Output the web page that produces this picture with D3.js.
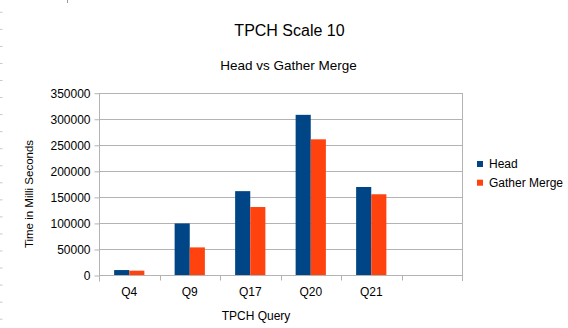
<!DOCTYPE html>
<html><head><meta charset="utf-8">
<script src="https://cdn.jsdelivr.net/npm/d3@7"></script>
<style>html,body{margin:0;padding:0;background:#fff;}svg{display:block;font-family:"Liberation Sans",Arial,sans-serif;}</style>
</head><body>
<script>
const categories = ["Q4", "Q9", "Q17", "Q20", "Q21", ""];
const seriesNames = ["Head", "Gather Merge"];
const headValues = [9500, 99000, 161000, 307500, 169000, null];
const gatherValues = [8300, 53000, 130500, 260500, 155000, null];
const yTicks = [0, 50000, 100000, 150000, 200000, 250000, 300000, 350000];
const colors = ["#004586", "#ff420e"];
const title = "TPCH Scale 10";
const subtitle = "Head vs Gather Merge";
const yLabel = "Time in Milli Seconds";
const xLabel = "TPCH Query";

const W = 568, H = 328;
const svg = d3.select("body").append("svg").attr("width", W).attr("height", H);

const plot = {left: 99, right: 462, top: 92.7, bottom: 275};
const x = d3.scaleBand().domain(categories.map((c, i) => i)).range([plot.left, plot.right]).paddingInner(0).paddingOuter(0);
const y = d3.scaleLinear().domain([0, 350000]).range([plot.bottom, plot.top]);
const xs = d3.scaleBand().domain([0, 1]).range([0, x.bandwidth()]).paddingInner(0).paddingOuter(1);

// decorative ruler marks at left edge
const marks = d3.range(12.3, 328, 17.05);
svg.append("g").selectAll("line").data(marks).join("line")
  .attr("x1", 0).attr("x2", 2.5).attr("y1", d => d).attr("y2", d => d)
  .attr("stroke", "#c8c8c8").attr("stroke-width", 1);
svg.append("line").attr("x1", 67.5).attr("x2", 67.5).attr("y1", 0).attr("y2", 3).attr("stroke", "#999");

// gridlines
svg.append("g").selectAll("line").data(yTicks).join("line")
  .attr("x1", plot.left).attr("x2", plot.right)
  .attr("y1", d => Math.round(y(d)) + 0.5).attr("y2", d => Math.round(y(d)) + 0.5)
  .attr("stroke", "#b3b3b3").attr("stroke-width", 1);
svg.append("line").attr("x1", plot.right + 0.5).attr("x2", plot.right + 0.5)
  .attr("y1", Math.round(plot.top)).attr("y2", plot.bottom + 6).attr("stroke", "#b3b3b3");

// y axis
const yAxis = d3.axisLeft(y).tickValues(yTicks).tickSize(5).tickPadding(4).tickFormat(d3.format("d"));
const gy = svg.append("g").attr("transform", `translate(${plot.left + 0.5},0.5)`).call(yAxis);
gy.select(".domain").attr("d", `M-0,${Math.round(plot.top)}V${plot.bottom + 6}`).attr("stroke", "#b3b3b3");
gy.selectAll(".tick line").attr("stroke", "#b3b3b3");
gy.selectAll(".tick text").attr("font-size", 12).attr("fill", "#000").attr("font-family", "Liberation Sans, Arial, sans-serif");

// x axis
const gx = svg.append("g").attr("transform", `translate(0,${Math.round(plot.bottom) + 0.5})`);
gx.append("line").attr("x1", plot.left).attr("x2", plot.right).attr("stroke", "#b3b3b3");
const bounds = categories.map((c, i) => x(i)).concat([plot.right]);
gx.selectAll("line.tk").data(bounds).join("line").attr("class", "tk")
  .attr("x1", d => Math.round(d) + 0.5).attr("x2", d => Math.round(d) + 0.5).attr("y1", 0).attr("y2", 5)
  .attr("stroke", "#b3b3b3");
gx.selectAll("text").data(categories).join("text")
  .attr("x", (d, i) => x(i) + x.bandwidth() / 2).attr("y", 20)
  .attr("text-anchor", "middle").attr("font-size", 12).attr("fill", "#000").text(d => d);

// bars
const data = categories.map((c, i) => ({i, vals: [headValues[i], gatherValues[i]]}));
const groups = svg.append("g").selectAll("g").data(data).join("g")
  .attr("transform", d => `translate(${x(d.i)},0)`);
groups.selectAll("rect").data(d => d.vals.map((v, k) => ({v, k})).filter(e => e.v != null)).join("rect")
  .attr("x", e => xs(e.k)).attr("width", xs.bandwidth())
  .attr("y", e => y(e.v)).attr("height", e => y(0) - y(e.v))
  .attr("fill", e => colors[e.k]);

// titles
svg.append("text").attr("x", 289.5).attr("y", 36).attr("text-anchor", "middle")
  .attr("font-size", 16).attr("fill", "#000").text(title);
svg.append("text").attr("x", 288.5).attr("y", 70).attr("text-anchor", "middle")
  .attr("font-size", 13.5).attr("fill", "#000").text(subtitle);
svg.append("text").attr("transform", "translate(33,194) rotate(-90)").attr("text-anchor", "middle")
  .attr("font-size", 11.5).attr("fill", "#000").text(yLabel);
svg.append("text").attr("x", 256).attr("y", 320).attr("text-anchor", "middle")
  .attr("font-size", 12).attr("fill", "#000").text(xLabel);

// legend
const lg = svg.append("g").selectAll("g").data(seriesNames).join("g")
  .attr("transform", (d, i) => `translate(477,${161 + i * 18.7})`);
lg.append("rect").attr("width", 6).attr("height", 6).attr("fill", (d, i) => colors[i]);
lg.append("text").attr("x", 12).attr("y", 7).attr("font-size", 12).attr("fill", "#000").text(d => d);
</script>
</body></html>
